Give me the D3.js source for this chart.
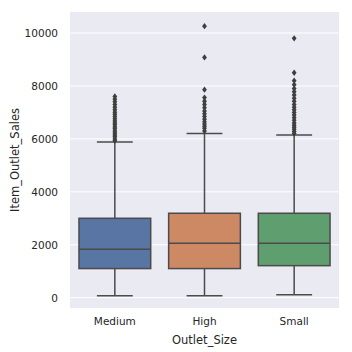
<!DOCTYPE html>
<html>
<head>
<meta charset="utf-8">
<script src="https://cdn.jsdelivr.net/npm/d3@7"></script>
<style>
  body { margin: 0; background: #fff; }
  svg text { font-family: "DejaVu Sans", sans-serif; fill: #262626; }
</style>
</head>
<body>
<div id="chart"></div>
<script>
// categories and box statistics
const sizes = ["Medium", "High", "Small"];
const boxColors = ["#5975a4", "#cc8963", "#5f9e6e"];
const lowWhisker = [70, 75, 110];
const q1 = [1100, 1100, 1210];
const median = [1830, 2060, 2060];
const q3 = [3000, 3190, 3190];
const highWhisker = [5880, 6200, 6150];
const outliersMedium = [5930, 6000, 6080, 6150, 6220, 6300, 6380, 6450, 6530, 6600, 6680, 6760, 6850, 6930, 7010, 7100, 7200, 7300, 7400, 7500, 7600];
const outliersHigh = [6300, 6400, 6480, 6560, 6650, 6740, 6850, 6950, 7050, 7180, 7300, 7420, 7560, 7860, 9080, 10260];
const outliersSmall = [6200, 6280, 6360, 6440, 6520, 6600, 6700, 6800, 6900, 7000, 7100, 7200, 7300, 7420, 7540, 7660, 7780, 7900, 8050, 8200, 8500, 9800];
const yTicks = [0, 2000, 4000, 6000, 8000, 10000];

const outliers = [outliersMedium, outliersHigh, outliersSmall];

const width = 352, height = 352;
const margin = { top: 12, right: 13, bottom: 44, left: 70 };

const svg = d3.select("#chart").append("svg")
    .attr("width", width)
    .attr("height", height);

const x = d3.scaleBand()
    .domain(sizes)
    .range([margin.left, width - margin.right])
    .paddingInner(0)
    .paddingOuter(0);

const y = d3.scaleLinear()
    .domain([-390, 10795])
    .range([height - margin.bottom, margin.top]);

// background
svg.append("rect")
    .attr("x", margin.left)
    .attr("y", margin.top)
    .attr("width", width - margin.left - margin.right)
    .attr("height", height - margin.top - margin.bottom)
    .attr("fill", "#eaeaf2");

// grid
svg.append("g")
    .selectAll("line")
    .data(yTicks)
    .join("line")
    .attr("x1", margin.left)
    .attr("x2", width - margin.right)
    .attr("y1", d => y(d))
    .attr("y2", d => y(d))
    .attr("stroke", "#fff")
    .attr("stroke-width", 1);

// axes
const yAxis = svg.append("g")
    .attr("transform", `translate(${margin.left},0)`)
    .call(d3.axisLeft(y).tickValues(yTicks).tickFormat(d3.format("d")).tickSize(0).tickPadding(12));
yAxis.select(".domain").remove();
yAxis.selectAll("text").style("font-size", "10.5px");

const xAxis = svg.append("g")
    .attr("transform", `translate(0,${height - margin.bottom})`)
    .call(d3.axisBottom(x).tickSize(0).tickPadding(10));
xAxis.select(".domain").remove();
xAxis.selectAll("text").style("font-size", "10.5px");

// axis labels
svg.append("text")
    .attr("x", (margin.left + width - margin.right) / 2)
    .attr("y", 344)
    .attr("text-anchor", "middle")
    .style("font-size", "11.5px")
    .text("Outlet_Size");

svg.append("text")
    .attr("transform", `translate(19,${(margin.top + height - margin.bottom) / 2}) rotate(-90)`)
    .attr("text-anchor", "middle")
    .style("font-size", "11.5px")
    .text("Item_Outlet_Sales");

// boxes
const lineColor = "#4b4b4b";
const boxW = x.bandwidth() * 0.8;
const capW = boxW * 0.5;

const groups = svg.append("g")
    .selectAll("g")
    .data(sizes)
    .join("g");

groups.each(function (cat, i) {
    const g = d3.select(this);
    const cx = x(cat) + x.bandwidth() / 2;

    // whiskers
    g.append("line")
        .attr("x1", cx).attr("x2", cx)
        .attr("y1", y(q3[i])).attr("y2", y(highWhisker[i]))
        .attr("stroke", lineColor).attr("stroke-width", 1.5);
    g.append("line")
        .attr("x1", cx).attr("x2", cx)
        .attr("y1", y(q1[i])).attr("y2", y(lowWhisker[i]))
        .attr("stroke", lineColor).attr("stroke-width", 1.5);

    // caps
    [highWhisker[i], lowWhisker[i]].forEach(v => {
        g.append("line")
            .attr("x1", cx - capW / 2).attr("x2", cx + capW / 2)
            .attr("y1", y(v)).attr("y2", y(v))
            .attr("stroke", lineColor).attr("stroke-width", 1.5);
    });

    // box
    g.append("rect")
        .attr("x", cx - boxW / 2)
        .attr("y", y(q3[i]))
        .attr("width", boxW)
        .attr("height", y(q1[i]) - y(q3[i]))
        .attr("fill", boxColors[i])
        .attr("stroke", lineColor)
        .attr("stroke-width", 1.5);

    // median
    g.append("line")
        .attr("x1", cx - boxW / 2).attr("x2", cx + boxW / 2)
        .attr("y1", y(median[i])).attr("y2", y(median[i]))
        .attr("stroke", lineColor).attr("stroke-width", 1.5);

    // outliers as thin diamonds
    g.selectAll("path.flier")
        .data(outliers[i])
        .join("path")
        .attr("class", "flier")
        .attr("d", d => `M${cx},${y(d) - 3.2}L${cx + 2.4},${y(d)}L${cx},${y(d) + 3.2}L${cx - 2.4},${y(d)}Z`)
        .attr("fill", "#3f3f3f");
});
</script>
</body>
</html>
